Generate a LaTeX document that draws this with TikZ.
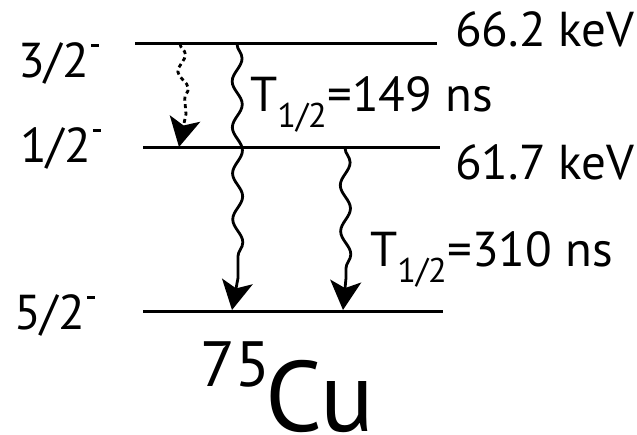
\documentclass[tikz,border=0pt]{standalone}
\usepackage{fontspec}
\setmainfont{PT Sans}
\usetikzlibrary{arrows.meta,decorations.pathmorphing}
\newcommand\supminus{\kern0.04em\raisebox{0.64em}{\rule{0.17em}{0.045em}}}
\begin{document}
\begin{tikzpicture}[x=1pt,y=-1pt,
  level/.style={line width=3pt},
  lbl/.style={anchor=base west,inner sep=0pt,font=\fontsize{49}{60}\selectfont},
  wave/.style={line width=2.8pt,-{Stealth[length=29pt,width=31pt,inset=7pt]}},
  wv/.style={decoration={snake,amplitude=5pt,segment length=46pt}},
  wvs/.style={decoration={snake,amplitude=4.5pt,segment length=34pt}},
  dots/.style={dash pattern=on 4pt off 3.5pt}]
\useasboundingbox (0,0) rectangle (637,435);
% levels
\coordinate (a1) at (135,44); \coordinate (a2) at (437,44);
\coordinate (b1) at (143,148); \coordinate (b2) at (440,148);
\coordinate (c1) at (143,312); \coordinate (c2) at (443,312);
\draw[level] (a1) -- (a2);
\draw[level] (b1) -- (b2);
\draw[level] (c1) -- (c2);
% labels
\node[lbl] (l32) at (18,78) {3/2\supminus};
\node[lbl] (l12) at (20,163) {1/2\supminus};
\node[lbl] (l52) at (14,330) {5/2\supminus};
\node[lbl] (e1) at (455,47) {66.2 keV};
\node[lbl] (e2) at (455,180) {61.7 keV};
\node[lbl] (t1) at (250,112) {T\textsubscript{1/2}=149 ns};
\node[lbl] (t2) at (370,267) {T\textsubscript{1/2}=310 ns};
\node[anchor=base west,inner sep=0pt,font=\fontsize{64}{70}\selectfont] (n75) at (200,387) {75};
\node[anchor=base west,inner sep=0pt,text depth=0pt,font=\fontsize{100}{100}\selectfont] (cu) at (265,431) {Cu};
% transitions
\coordinate (s0) at (180,44); \coordinate (s1) at (186,114); \coordinate (s2) at (179,147);
\coordinate (p0) at (237,44); \coordinate (p1) at (238,278); \coordinate (p2) at (232,310);
\coordinate (q0) at (345,148); \coordinate (q1) at (346,278); \coordinate (q2) at (343,310);
\draw[wave,dots] (s0) decorate[wvs]{ -- (s1)} -- (s2);
\draw[wave] (p0) decorate[wv]{ -- (p1)} -- (p2);
\draw[wave] (q0) decorate[wv]{ -- (q1)} -- (q2);
\end{tikzpicture}
\end{document}
